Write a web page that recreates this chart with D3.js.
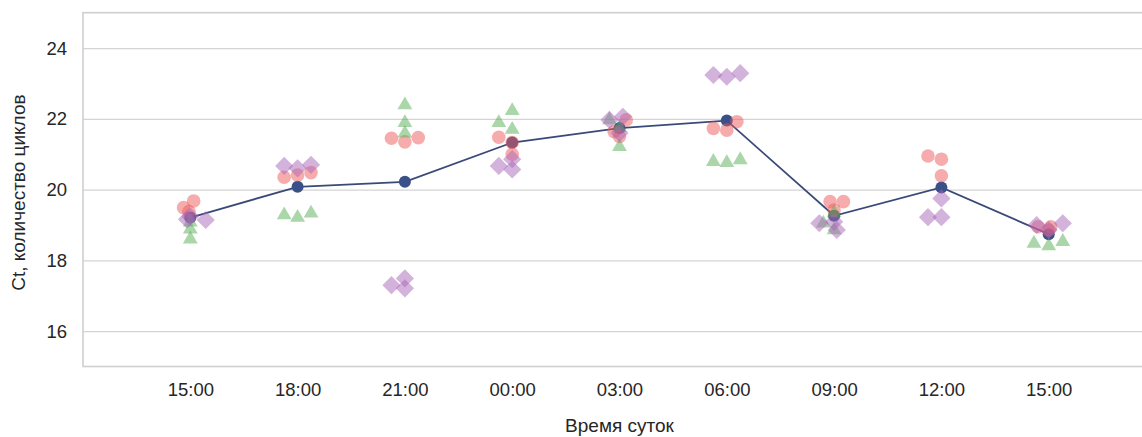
<!DOCTYPE html>
<html>
<head>
<meta charset="utf-8">
<script src="https://cdn.jsdelivr.net/npm/d3@7"></script>
<style>
  body { margin: 0; background: #fff; }
  svg { display: block; font-family: "Liberation Sans", Arial, sans-serif; }
</style>
</head>
<body>
<svg width="1142" height="437"></svg>
<script>
// time of day labels (two "15:00" so we index by position)
var timeLabels = ["15:00", "18:00", "21:00", "00:00", "03:00", "06:00", "09:00", "12:00", "15:00"];

// mean Ct line
var meanCt = [19.21, 20.08, 20.22, 21.33, 21.74, 21.95, 19.26, 20.06, 18.74];

// replicates, 3 per time point
var circleCt = [
  [19.49, 19.38, 19.68], [20.35, 20.41, 20.48], [21.45, 21.35, 21.47],
  [21.48, 21.33, 21.00], [21.97, 21.64, 21.50], [21.73, 21.68, 21.92],
  [19.66, 19.42, 19.66], [20.95, 20.86, 20.39], [18.95, 18.95, 18.86]
];
var triangleCt = [
  [19.08, 18.88, 18.60], [19.28, 19.21, 19.33], [22.39, 21.89, 21.59],
  [21.89, 22.23, 21.70], [21.97, 21.75, 21.21], [20.79, 20.76, 20.84],
  [19.05, 19.34, 18.86], [null, null, null], [18.48, 18.41, 18.53]
];
var diamondCt = [
  [19.16, 19.24, 19.14], [20.67, 20.60, 20.70], [17.30, 17.49, 17.21],
  [20.67, 20.86, 20.57], [21.97, 22.06, 21.60], [23.24, 23.19, 23.29],
  [19.05, 19.09, 18.86], [19.22, 19.75, 19.22], [19.00, 18.86, 19.05]
];

// horizontal jitter of each replicate (in replicate slots)
var circleJit = [
  [-0.5, -0.1, 0.25], [-1, 0, 1], [-1, 0, 1], [-1, 0, 0], [0.5, -0.4, 0],
  [-1, 0, 0.75], [-0.3, 0, 0.7], [-1, 0, 0], [-0.8, 0.15, 0]
];
var triangleJit = [
  [0, 0, 0], [-1, 0, 1], [0, 0, 0], [-1, 0, 0], [-0.75, 0, 0],
  [-1, 0, 1], [-0.8, 0, 0], [0, 0, 0], [-1.1, 0, 1.05]
];
var diamondJit = [
  [-0.25, 0, 1.15], [-1, 0, 1], [-1, 0, 0], [-1, 0, 0], [-0.75, 0.25, 0],
  [-1, 0, 1], [-1.1, 0, 0.2], [-1, 0, 0], [-0.9, 0, 1.05]
];

var yTicks = [16, 18, 20, 22, 24];

var svg = d3.select("svg"),
    margin = {top: 12.7, right: -14, bottom: 70.5, left: 83},
    width = 1142 - margin.left - margin.right,
    height = 437 - margin.top - margin.bottom,
    g = svg.append("g").attr("transform", "translate(" + margin.left + "," + margin.top + ")");

var x = d3.scalePoint().domain(d3.range(timeLabels.length)).range([0, width]).padding(1),
    y = d3.scaleLinear().domain([15, 25]).range([height, 0]);

var jitterPx = x.step() * 0.125;

// grid + y labels
var yAxis = g.append("g")
    .call(d3.axisLeft(y).tickValues(yTicks).tickSize(-width).tickPadding(16).tickFormat(d3.format("d")));
yAxis.select(".domain").remove();
yAxis.selectAll("line").attr("stroke", "#d4d4d4").attr("stroke-width", 1.4);
yAxis.selectAll("text").attr("fill", "#262626").style("font-size", "18.5px");

var xAxis = g.append("g")
    .attr("transform", "translate(0," + height + ")")
    .call(d3.axisBottom(x).tickSize(0).tickPadding(16).tickFormat(function(i) { return timeLabels[i]; }));
xAxis.select(".domain").remove();
xAxis.selectAll("text").attr("fill", "#262626").style("font-size", "18.5px");

// frame
g.append("rect")
    .attr("width", width)
    .attr("height", height)
    .attr("fill", "none")
    .attr("stroke", "#cfcfcf")
    .attr("stroke-width", 1.6);

// mean line
var line = d3.line()
    .x(function(d, i) { return x(i); })
    .y(function(d) { return y(d); });

g.append("path")
    .datum(meanCt)
    .attr("d", line)
    .attr("fill", "none")
    .attr("stroke", "#3a4a78")
    .attr("stroke-width", 1.8);

g.selectAll(".mean")
  .data(meanCt)
  .enter().append("circle")
    .attr("class", "mean")
    .attr("cx", function(d, i) { return x(i); })
    .attr("cy", function(d) { return y(d); })
    .attr("r", 6)
    .attr("fill", "#3a5089");

function flatten(vals, jit) {
  var out = [];
  vals.forEach(function(row, i) {
    row.forEach(function(v, j) {
      if (v != null) out.push({t: i, v: v, j: jit[i][j]});
    });
  });
  return out;
}

function drawSeries(vals, jit, type, size, color, opacity, rot) {
  var sym = d3.symbol().type(type).size(size);
  g.append("g").selectAll("path")
    .data(flatten(vals, jit))
    .enter().append("path")
      .attr("d", sym)
      .attr("transform", function(d) {
        return "translate(" + (x(d.t) + d.j * jitterPx) + "," + y(d.v) + ")" + (rot ? " rotate(" + rot + ")" : "");
      })
      .attr("fill", color)
      .attr("fill-opacity", opacity);
}

drawSeries(circleCt, circleJit, d3.symbolCircle, 145, "#ee5a5a", 0.5, 0);
drawSeries(triangleCt, triangleJit, d3.symbolTriangle, 95, "#55ad55", 0.5, 0);
drawSeries(diamondCt, diamondJit, d3.symbolSquare, 165, "#a865b8", 0.5, 45);

// axis titles
svg.append("text")
    .attr("transform", "translate(25," + (margin.top + height / 2 + 3) + ") rotate(-90)")
    .attr("text-anchor", "middle")
    .attr("fill", "#262626")
    .style("font-size", "19px")
    .text("Ct, количество циклов");

svg.append("text")
    .attr("x", margin.left + width / 2)
    .attr("y", 432)
    .attr("text-anchor", "middle")
    .attr("fill", "#262626")
    .style("font-size", "19px")
    .text("Время суток");
</script>
</body>
</html>
